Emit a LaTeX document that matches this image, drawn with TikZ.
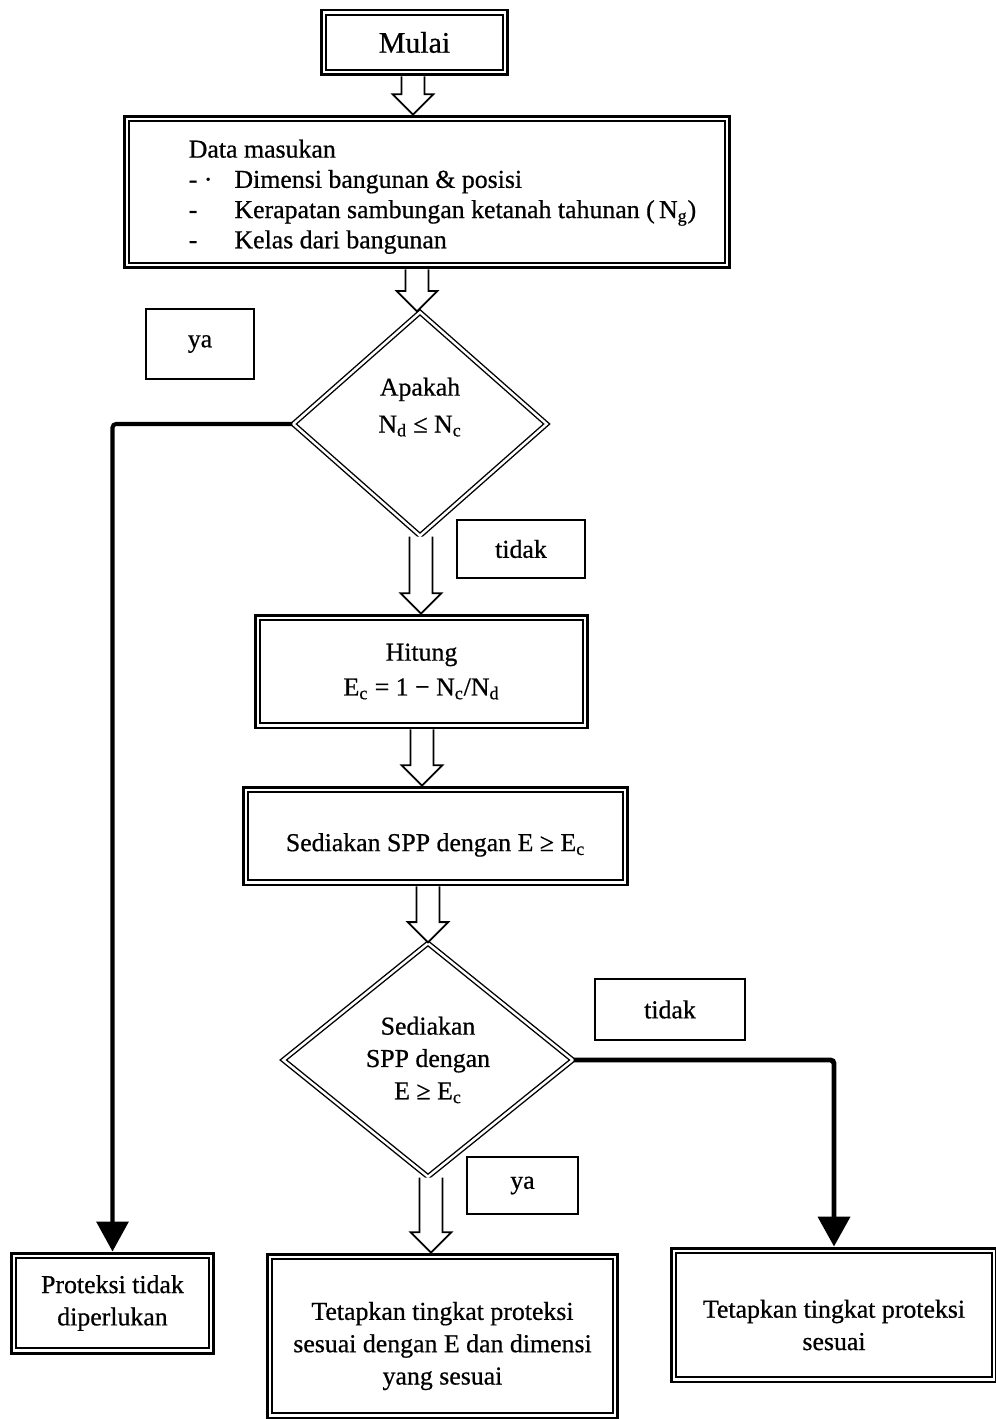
\documentclass[tikz,border=0pt]{standalone}
\usepackage{fontspec}
\setmainfont{Liberation Serif}[FakeBold=0.6]
\usetikzlibrary{shapes.geometric,arrows.meta,calc}
\tikzset{
 txt/.style={font=\fontsize{14.7}{18.4}\selectfont, align=center},
 frame/.style={draw, line width=1.7pt, inner sep=0pt, txt},
 tagbox/.style={draw, line width=1.1pt, inner sep=0pt, txt},
 decision/.style={diamond, draw, double, line width=0.8pt, double distance=1.4pt, inner sep=0pt, txt},
 blockarr/.style={line width=1pt, fill=white, draw, line join=miter},
 flow/.style={line width=2.3pt, rounded corners=2pt, -{Triangle[width=18pt,length=17pt]}},
 innerline/.style={line width=0.9pt},
 lbl/.style={txt, inner sep=0pt}
}
\newcommand\innerframe[1]{\draw[innerline] ([shift={(3.7pt,-3.7pt)}]#1.north west) rectangle ([shift={(-3.7pt,3.7pt)}]#1.south east);}
\newcommand\blockarrow[3]{\draw[blockarr] let \p1=(#1.south), \p2=(#2.north), \p3=(#3,0) in
  (\x3-6.5pt,\y1) -- (\x3-6.5pt,\y2+11.5pt) -- (\x3-11.5pt,\y2+11.5pt) -- (\x3,\y2) -- (\x3+11.5pt,\y2+11.5pt) -- (\x3+6.5pt,\y2+11.5pt) -- (\x3+6.5pt,\y1);}
\begin{document}
\begin{tikzpicture}[x=0.02cm,y=-0.02cm]
\useasboundingbox (0,0) rectangle (996,1419);
\fill[white] (0,0) rectangle (996,1419);

\node[frame, minimum width=3.74cm, minimum height=1.3cm, font=\fontsize{17}{20}\selectfont] (mulai) at (414.5,42.5) {Mulai};

\node[frame, minimum width=12.12cm, minimum height=3.04cm,
  label={[lbl, align=left, anchor=west, xshift=37.5pt, yshift=-2.8pt, font=\fontsize{14.7}{17.2}\selectfont]west:{\begin{tabular}{@{}p{26pt}@{}l@{}}\multicolumn{2}{@{}l@{}}{Data masukan}\\ - · & Dimensi bangunan \& posisi\\ - & Kerapatan sambungan ketanah tahunan (\,N\textsubscript{g})\\ - & Kelas dari bangunan\end{tabular}}}] (data) at (427,192) {};

\node[decision, minimum width=5.08cm, minimum height=4.48cm,
  label={[lbl, yshift=9.6pt, font=\fontsize{14.7}{21}\selectfont]center:{Apakah\\ N\textsubscript{d} ≤ N\textsubscript{c}}}] (d1) at (420,424) {};

\node[tagbox, minimum width=2.16cm, minimum height=1.4cm] (ya1) at (200,344) {ya};
\node[tagbox, minimum width=2.56cm, minimum height=1.16cm] (tidak1) at (521,549) {tidak};

\node[frame, minimum width=6.66cm, minimum height=2.26cm, font=\fontsize{14.7}{19.8}\selectfont] (hitung) at (421.5,671.5) {Hitung\\ E\textsubscript{c} = 1 − N\textsubscript{c}/N\textsubscript{d}};

\node[frame, minimum width=7.7cm, minimum height=1.96cm,
  label={[lbl, yshift=-5.1pt]center:{Sediakan SPP dengan E ≥ E\textsubscript{c}}}] (spp) at (435.5,836) {};

\node[decision, minimum width=5.8cm, minimum height=4.68cm] (d2) at (428,1060) {Sediakan\\ SPP dengan\\ E ≥ E\textsubscript{c}};

\node[tagbox, minimum width=3.0cm, minimum height=1.22cm] (tidak2) at (670,1009.5) {tidak};
\node[tagbox, minimum width=2.22cm, minimum height=1.14cm] (ya2) at (522.5,1185.5) {ya};

\node[frame, minimum width=4.06cm, minimum height=2.0cm] (prot) at (112.5,1303) {Proteksi tidak\\ diperlukan};
\node[frame, minimum width=7.02cm, minimum height=3.28cm,
  label={[lbl, yshift=-5.7pt]center:{Tetapkan tingkat proteksi\\ sesuai dengan E dan dimensi\\ yang sesuai}}] (tetap1) at (442.5,1336) {};
\node[frame, minimum width=6.52cm, minimum height=2.68cm,
  label={[lbl, yshift=-5.7pt]center:{Tetapkan tingkat proteksi\\ sesuai}}] (tetap2) at (834,1315) {};

\innerframe{mulai}
\innerframe{data}
\innerframe{hitung}
\innerframe{spp}
\innerframe{prot}
\innerframe{tetap1}
\innerframe{tetap2}

\blockarrow{mulai}{data}{413}
\blockarrow{data}{d1}{417}
\blockarrow{d1}{hitung}{421}
\blockarrow{hitung}{spp}{422}
\blockarrow{spp}{d2}{428}
\blockarrow{d2}{tetap1}{431}

\draw[flow] (d1.west) -| (prot.north);
\draw[flow, line width=2.8pt] (d2.east) -| (tetap2.north);
\end{tikzpicture}
\end{document}
